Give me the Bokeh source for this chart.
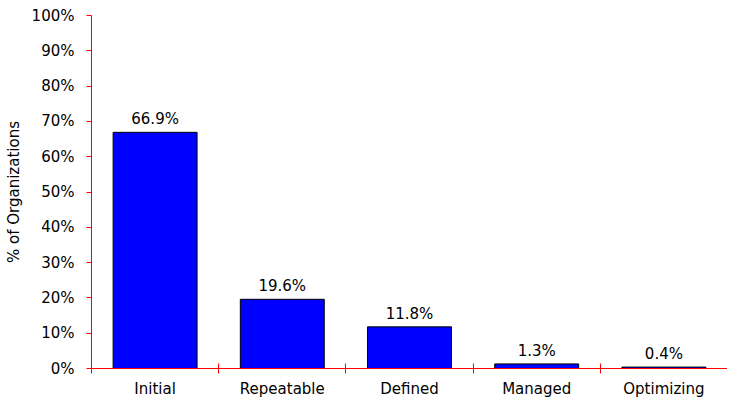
from bokeh.plotting import figure
from bokeh.models import FixedTicker, ColumnDataSource, Range1d
from bokeh.embed import file_html
from bokeh.resources import INLINE
from bokeh.core.properties import value

categories = ["Initial", "Repeatable", "Defined", "Managed", "Optimizing"]
percent_values = [66.9, 19.6, 11.8, 1.3, 0.4]
y_ticks = [0, 10, 20, 30, 40, 50, 60, 70, 80, 90, 100]
y_title = "% of Organizations"

FONT = "DejaVu Sans"
RED = "#FF0000"

centers = [i + 0.5 for i in range(len(categories))]
src = ColumnDataSource(dict(
    x=centers,
    top=percent_values,
    label=[f"{v:.1f}%" for v in percent_values],
))

p = figure(width=727, height=400, output_backend="svg", toolbar_location=None,
           x_range=Range1d(0, len(categories)), y_range=Range1d(0, 100),
           min_border_left=91, min_border_right=0, min_border_top=15,
           min_border_bottom=20)
p.outline_line_color = None
p.xgrid.grid_line_color = None
p.ygrid.grid_line_color = None
p.background_fill_color = "white"
p.border_fill_color = "white"

p.vbar(x="x", top="top", width=0.66, bottom=0, source=src,
       fill_color="#0000FF", line_color="black", line_width=1)

p.text(x="x", y="top", text="label", source=src, text_align="center",
       text_baseline="alphabetic", y_offset=-13, text_font=value(FONT),
       text_font_size="15px", text_color="black")

# x axis
xa = p.xaxis[0]
xa.ticker = FixedTicker(ticks=centers, minor_ticks=list(range(len(categories) + 1)))
xa.major_label_overrides = {c: name for c, name in zip(centers, categories)}
xa.axis_line_color = RED
xa.major_tick_line_color = None
xa.major_tick_out = 0
xa.major_tick_in = 0
xa.minor_tick_line_color = RED
xa.minor_tick_in = 5
xa.minor_tick_out = 5
xa.major_label_standoff = 6
xa.major_label_text_font = FONT
xa.major_label_text_font_size = "15px"
xa.major_label_text_color = "black"

# y axis
ya = p.yaxis[0]
ya.ticker = FixedTicker(ticks=y_ticks, minor_ticks=[])
ya.major_label_overrides = {t: f"{t}%" for t in y_ticks}
ya.axis_line_color = RED
ya.major_tick_line_color = RED
ya.major_tick_out = 5
ya.major_tick_in = 0
ya.minor_tick_line_color = None
ya.major_label_standoff = 12
ya.major_label_text_font = FONT
ya.major_label_text_font_size = "15px"
ya.major_label_text_color = "black"
ya.axis_label = y_title
ya.axis_label_text_font = FONT
ya.axis_label_text_font_size = "15px"
ya.axis_label_text_font_style = "normal"
ya.axis_label_text_color = "black"
ya.axis_label_standoff = 6

open("out.html", "w").write(file_html(p, INLINE))
